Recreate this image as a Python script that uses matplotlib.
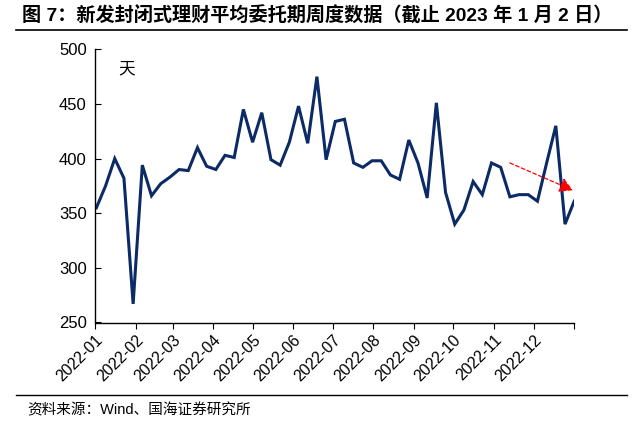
import matplotlib
matplotlib.use("Agg")
import matplotlib.pyplot as plt
import matplotlib.dates as mdates
import pandas as pd
from matplotlib.lines import Line2D

plt.rcParams['font.family'] = ['Liberation Sans', 'Noto Sans CJK SC', 'DejaVu Sans']

title = "图 7：新发封闭式理财平均委托期周度数据（截止 2023 年 1 月 2 日）"
source = "资料来源：Wind、国海证券研究所"
unit = "天"

dates = pd.date_range("2022-01-02", periods=53, freq="7D")
values = [355, 375, 400, 382, 267, 394, 366, 377, 383, 390, 389, 410, 393, 390,
          403, 401, 445, 415, 442, 399, 394, 415, 448, 414, 475, 399, 434, 436,
          396, 392, 398, 398, 385, 381, 417, 396, 364, 451, 369, 340, 353, 379,
          367, 396, 392, 365, 367, 367, 361, 396, 430, 340, 361]
month_ticks = pd.date_range("2022-01-01", "2023-01-01", freq="MS")
month_labels = [d.strftime("%Y-%m") for d in month_ticks[:-1]] + [""]
arrow_start = (pd.Timestamp("2022-11-13"), 396)
arrow_end = (pd.Timestamp("2022-12-31"), 371)

fig = plt.figure(figsize=(6.38, 4.30), dpi=100)
ax = fig.add_axes([0.149, 0.25, 0.751, 0.6353])

ax.plot(dates, values, color="#0B2A66", lw=2.2, solid_joinstyle="miter")

ax.set_xlim(pd.Timestamp("2022-01-01"), pd.Timestamp("2023-01-01"))
ax.set_ylim(250, 500)
ax.set_yticks([250, 300, 350, 400, 450, 500])
ax.set_xticks(month_ticks)
ax.set_xticklabels(month_labels, rotation=45, ha="right", rotation_mode="anchor")

for s in ["top", "right"]:
    ax.spines[s].set_visible(False)
for s in ["left", "bottom"]:
    ax.spines[s].set_linewidth(1.0)
    ax.spines[s].set_color("black")
ax.tick_params(axis="y", direction="in", length=4, labelsize=12, pad=6)
ax.tick_params(axis="x", direction="out", length=4, labelsize=11.5, pad=3)

ax.text(0.065, 0.93, unit, transform=ax.transAxes, fontsize=12,
        family=['Noto Sans CJK SC'], ha="center", va="center")

ax.annotate("", xy=arrow_end, xytext=arrow_start,
            arrowprops=dict(arrowstyle="-|>,head_length=0.8,head_width=0.45",
                            color="red", lw=0.9, linestyle=(0, (3, 2)),
                            shrinkA=0, shrinkB=0))

fig.text(0.034, 0.962, title, fontsize=13.8, fontweight="bold", ha="left", va="center",
         family=['Liberation Sans', 'Noto Sans CJK SC'])
fig.add_artist(Line2D([16/638, 627/638], [1-30/430, 1-30/430], color="black", lw=1.2))
fig.add_artist(Line2D([16/638, 627/638], [1-394.5/430, 1-394.5/430], color="black", lw=1.0))
fig.text(0.042, 1-410/430, source, fontsize=10.5, ha="left", va="center",
         family=['Liberation Sans', 'Noto Sans CJK SC'])

fig.savefig("out.png", dpi=100)
